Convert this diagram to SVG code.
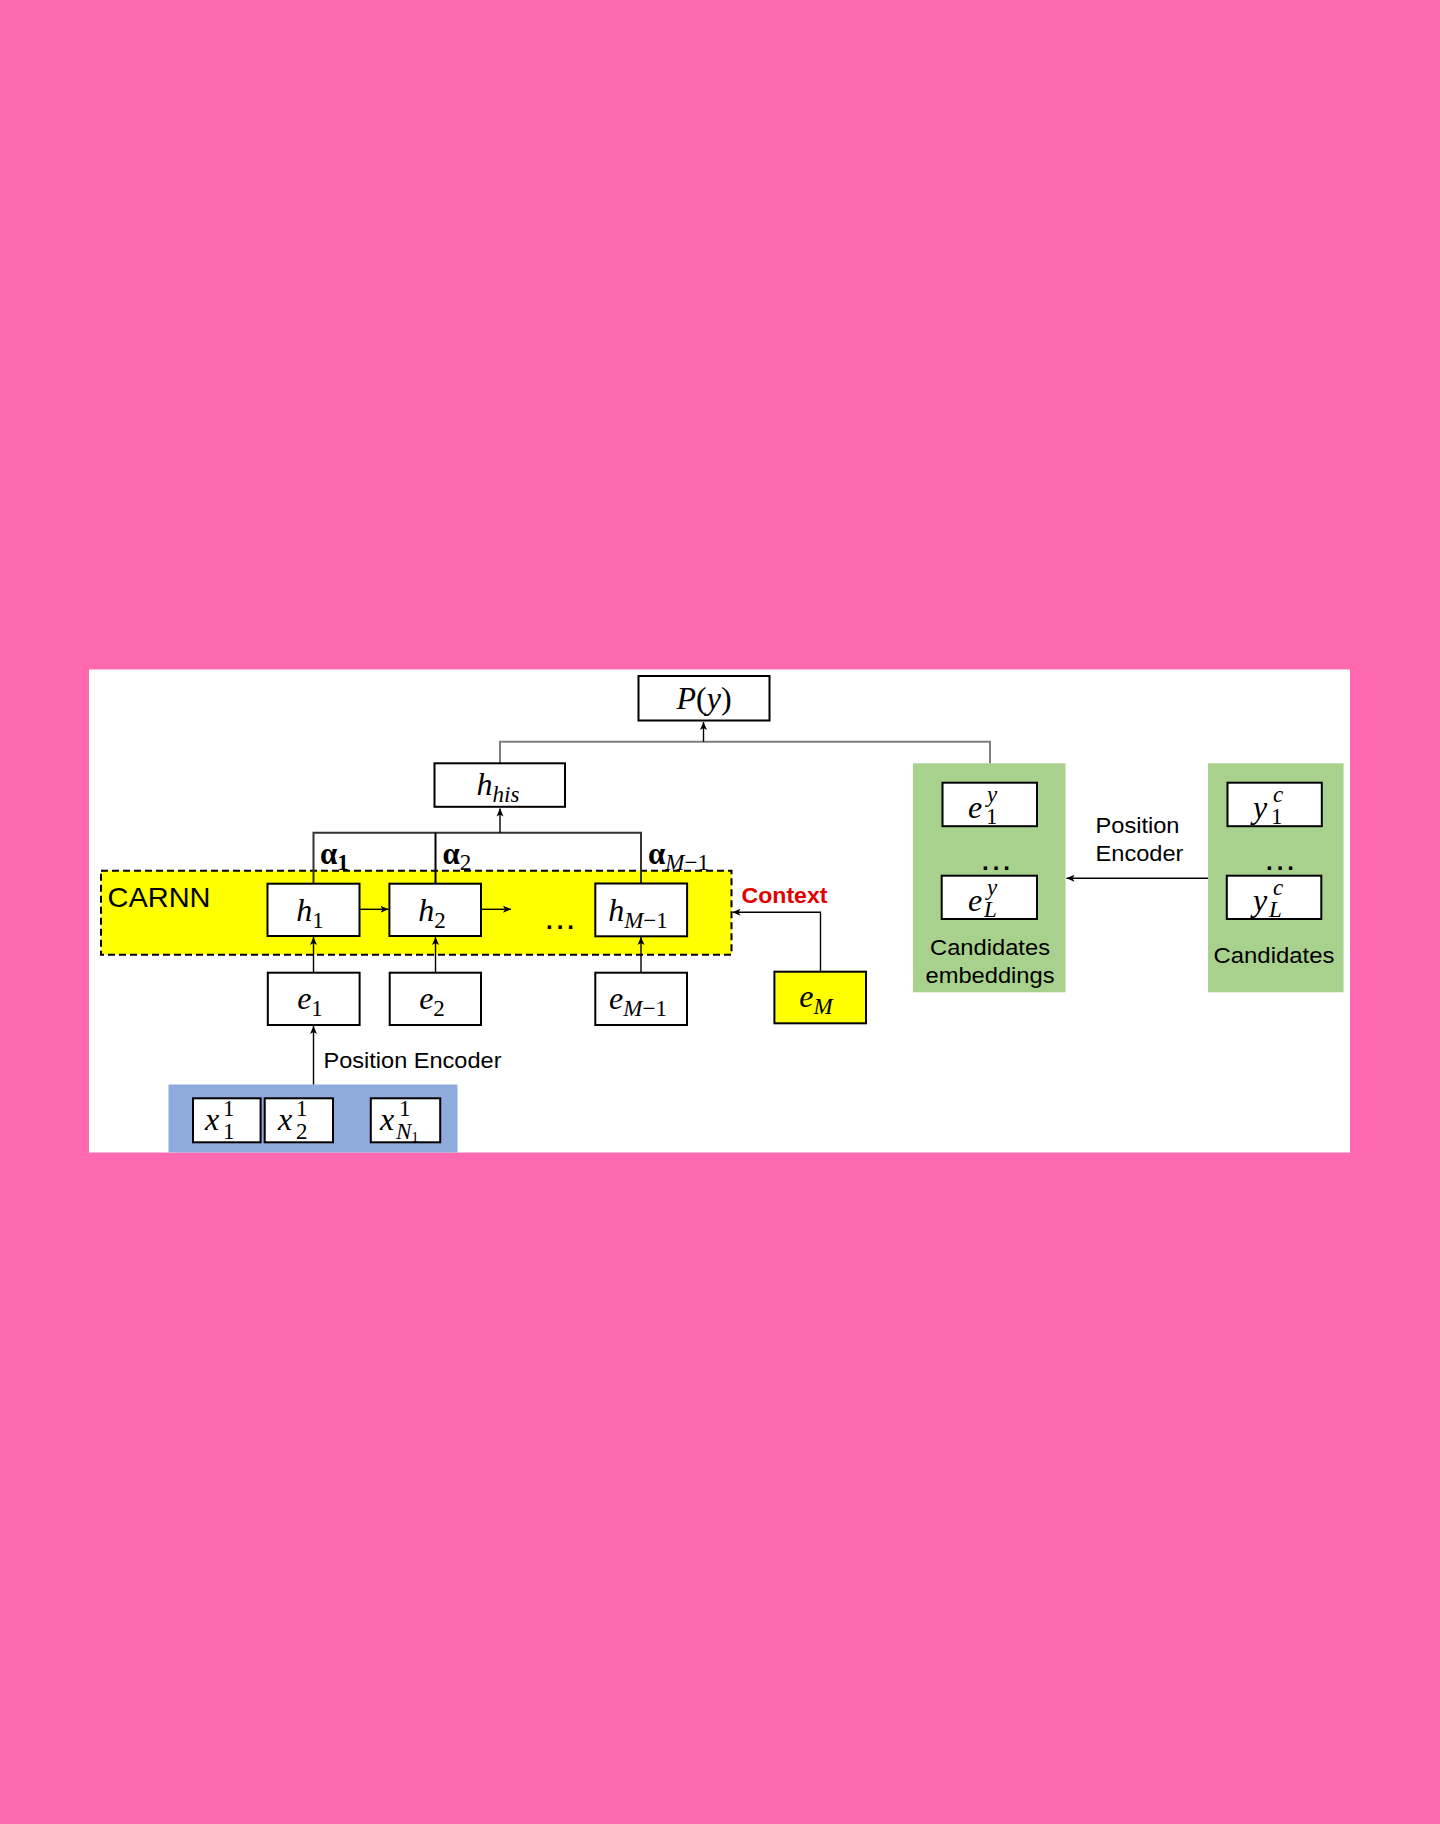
<svg xmlns="http://www.w3.org/2000/svg" width="1440" height="1824" viewBox="0 0 1440 1824">
<defs>
<marker id="arr" markerUnits="userSpaceOnUse" markerWidth="10" markerHeight="10" refX="8" refY="4" orient="auto">
<path d="M0,0.5 L8,4 L0,7.5 L2,4 Z" fill="#000"/>
</marker>
<style>
.box{fill:#fff;stroke:#000;stroke-width:2}
.m{font-family:"Liberation Serif","DejaVu Serif",serif;font-style:italic;font-size:32px;fill:#000}
.up{font-style:normal}
.sb{font-size:23px}
.lbl{font-family:"Liberation Sans",Arial,sans-serif;font-size:22.5px;fill:#000}
.al{font-family:"Liberation Serif","DejaVu Serif",serif;font-weight:bold;font-size:31px;fill:#000}
.ln{fill:none;stroke:#000;stroke-width:1.4}
.dots{font-family:"Liberation Sans",Arial,sans-serif;font-weight:bold;font-size:24px;fill:#000;letter-spacing:4px}
</style>
</defs>
<rect x="0" y="0" width="1440" height="1824" fill="#ff69b0"/>
<rect x="89" y="669.5" width="1261" height="483" fill="#fff"/>

<g id="areas">
<rect id="carnn" x="101" y="870.7" width="630.5" height="84" fill="#ffff00" stroke="#000" stroke-width="2" stroke-dasharray="7 4"/>
<text class="lbl" x="107.5" y="906.7" style="font-size:28px" textLength="103" lengthAdjust="spacingAndGlyphs">CARNN</text>
<rect id="cand-emb-area" x="913" y="763.3" width="152.5" height="229" fill="#a9d18e"/>
<rect id="cand-area" x="1208" y="763.3" width="135.6" height="229" fill="#a9d18e"/>
<rect id="input-area" x="168.5" y="1084.5" width="289" height="68" fill="#8faadc"/>
</g>

<g id="connectors">
<polyline points="500,763.3 500,741.7 990,741.7 990,763.3" fill="none" stroke="#7f7f7f" stroke-width="2"/>
<line class="ln" x1="703.5" y1="741.7" x2="703.5" y2="722" stroke-width="2" marker-end="url(#arr)"/>
<polyline points="313.5,883.7 313.5,832.7 641,832.7 641,883.7" fill="none" stroke="#333" stroke-width="2"/>
<line x1="435.5" y1="832.7" x2="435.5" y2="883.7" stroke="#000" stroke-width="2"/>
<line class="ln" x1="500" y1="832.7" x2="500" y2="808.5" stroke-width="2" marker-end="url(#arr)"/>
<line class="ln" x1="359.5" y1="909.3" x2="388.5" y2="909.3" marker-end="url(#arr)"/>
<line class="ln" x1="481" y1="909.3" x2="511" y2="909.3" marker-end="url(#arr)"/>
<line class="ln" x1="313.5" y1="972.7" x2="313.5" y2="937" marker-end="url(#arr)"/>
<line class="ln" x1="435.5" y1="972.7" x2="435.5" y2="937" stroke-width="2.2" marker-end="url(#arr)"/>
<line class="ln" x1="641" y1="972.7" x2="641" y2="937" marker-end="url(#arr)"/>
<line class="ln" x1="313.5" y1="1084.5" x2="313.5" y2="1026" marker-end="url(#arr)"/>
<polyline class="ln" points="820.5,971.7 820.5,912.3 732.5,912.3" marker-end="url(#arr)"/>
<line class="ln" x1="1208" y1="878.3" x2="1066.5" y2="878.3" marker-end="url(#arr)"/>
</g>

<g id="labels">
<text class="al" x="320" y="863.5">α<tspan class="sb" dy="6">1</tspan></text>
<text class="al" x="442.5" y="863.5">α<tspan class="sb" dy="6" font-weight="normal">2</tspan></text>
<text class="al" x="648" y="863.5">α<tspan class="sb" dy="6" font-weight="normal"><tspan font-style="italic">M</tspan>−1</tspan></text>
<text x="741.5" y="902.7" font-family="'Liberation Sans',Arial,sans-serif" font-weight="bold" font-size="22.5" fill="#e00000" textLength="86" lengthAdjust="spacingAndGlyphs">Context</text>
<text class="dots" x="562" y="929" text-anchor="middle">...</text>
<text class="lbl" x="323.5" y="1068.3" textLength="178" lengthAdjust="spacingAndGlyphs">Position Encoder</text>
<text class="lbl" x="1095.5" y="832.7" textLength="84" lengthAdjust="spacingAndGlyphs">Position</text>
<text class="lbl" x="1095.5" y="860.7" textLength="88" lengthAdjust="spacingAndGlyphs">Encoder</text>
<text class="lbl" x="990" y="955" text-anchor="middle" textLength="120" lengthAdjust="spacingAndGlyphs">Candidates</text>
<text class="lbl" x="990" y="982.7" text-anchor="middle" textLength="129" lengthAdjust="spacingAndGlyphs">embeddings</text>
<text class="lbl" x="1274" y="963.3" text-anchor="middle" textLength="121" lengthAdjust="spacingAndGlyphs">Candidates</text>
<text class="dots" x="998" y="870" text-anchor="middle">...</text>
<text class="dots" x="1282" y="870" text-anchor="middle">...</text>
</g>

<g id="node-py">
<rect class="box" x="638.5" y="676" width="131" height="44.5"/>
<text class="m" x="704" y="709" text-anchor="middle">P<tspan class="up">(</tspan>y<tspan class="up">)</tspan></text>
</g>
<g id="node-hhis">
<rect class="box" x="434.5" y="763.3" width="130.5" height="43.5"/>
<text class="m" x="498" y="795" text-anchor="middle">h<tspan class="sb" dy="7">his</tspan></text>
</g>
<g id="node-h1">
<rect class="box" x="267.5" y="883.7" width="92" height="52.3"/>
<text class="m" x="310" y="920.5" text-anchor="middle">h<tspan class="sb up" dy="7">1</tspan></text>
</g>
<g id="node-h2">
<rect class="box" x="389.4" y="883.7" width="91.6" height="52.3"/>
<text class="m" x="432" y="920.5" text-anchor="middle">h<tspan class="sb up" dy="7">2</tspan></text>
</g>
<g id="node-hM1">
<rect class="box" x="595.3" y="883.5" width="91.8" height="52.8"/>
<text class="m" x="638" y="920.5" text-anchor="middle">h<tspan class="sb" dy="7">M</tspan><tspan class="sb up">−1</tspan></text>
</g>
<g id="node-e1">
<rect class="box" x="267.8" y="972.7" width="91.8" height="52.3"/>
<text class="m" x="310" y="1008.5" text-anchor="middle">e<tspan class="sb up" dy="7">1</tspan></text>
</g>
<g id="node-e2">
<rect class="box" x="389.7" y="972.7" width="91.3" height="52.3"/>
<text class="m" x="432" y="1008.5" text-anchor="middle">e<tspan class="sb up" dy="7">2</tspan></text>
</g>
<g id="node-eM1">
<rect class="box" x="595.3" y="972.7" width="91.7" height="52.3"/>
<text class="m" x="638" y="1008.5" text-anchor="middle">e<tspan class="sb" dy="7">M</tspan><tspan class="sb up">−1</tspan></text>
</g>
<g id="node-eM">
<rect class="box" x="774.4" y="971.7" width="91.6" height="51.6" style="fill:#ffff00"/>
<text class="m" x="816" y="1007" text-anchor="middle">e<tspan class="sb" dy="7">M</tspan></text>
</g>
<g id="node-e1y">
<rect class="box" x="942.5" y="782.7" width="94.5" height="43.5"/>
<text class="m" x="968" y="818">e</text>
<text class="m sb" x="987" y="802">y</text>
<text class="m sb up" x="986" y="824">1</text>
</g>
<g id="node-eLy">
<rect class="box" x="941.7" y="875.7" width="95.3" height="43.3"/>
<text class="m" x="968" y="910.5">e</text>
<text class="m sb" x="987" y="895">y</text>
<text class="m sb" x="984" y="917">L</text>
</g>
<g id="node-y1c">
<rect class="box" x="1227.5" y="782.7" width="94.3" height="43.5"/>
<text class="m" x="1253" y="818">y</text>
<text class="m sb" x="1273" y="802">c</text>
<text class="m sb up" x="1271" y="824">1</text>
</g>
<g id="node-yLc">
<rect class="box" x="1226.8" y="875.7" width="94.5" height="43.3"/>
<text class="m" x="1253" y="910.5">y</text>
<text class="m sb" x="1273" y="895">c</text>
<text class="m sb" x="1269" y="917">L</text>
</g>
<g id="node-x11">
<rect class="box" x="193" y="1098.3" width="67.6" height="44"/>
<text class="m" x="205" y="1130">x</text>
<text class="m sb up" x="223" y="1116">1</text>
<text class="m sb up" x="223" y="1139">1</text>
</g>
<g id="node-x21">
<rect class="box" x="264.7" y="1098.3" width="68.3" height="44"/>
<text class="m" x="278" y="1130">x</text>
<text class="m sb up" x="296" y="1116">1</text>
<text class="m sb up" x="296" y="1139">2</text>
</g>
<g id="node-xN1">
<rect class="box" x="370.8" y="1098.3" width="69.4" height="44"/>
<text class="m" x="380" y="1130">x</text>
<text class="m sb up" x="399" y="1116">1</text>
<text class="m sb" x="396" y="1139">N<tspan class="up" font-size="15" dy="3">1</tspan></text>
</g>
</svg>
